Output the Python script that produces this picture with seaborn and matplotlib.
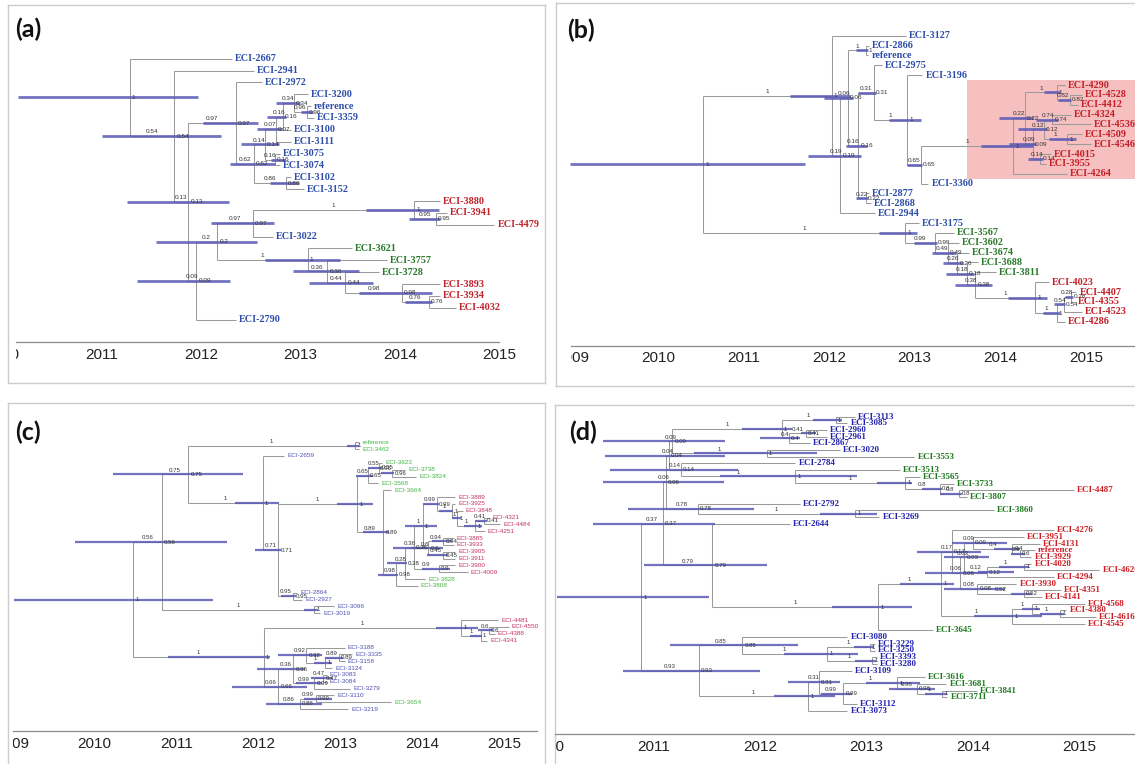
import matplotlib
matplotlib.use("Agg")
import matplotlib.pyplot as plt
from matplotlib.patches import Rectangle
from matplotlib.transforms import blended_transform_factory, Bbox, TransformedBbox
import seaborn as sns

# ----------------------------------------------------------------- data
# tips: (label, parent node, tip date, colour group)
# nodes: (id, parent, node date, posterior, HPD low, HPD high)
A_TIPS = [
    ("ECI-2667", "root", 2012.31, "b"), ("ECI-2941", "n54", 2012.53, "b"),
    ("ECI-2972", "n97", 2012.61, "b"), ("ECI-3200", "n34", 2013.07, "b"),
    ("reference", "n96", 2013.10, "b"), ("ECI-3359", "n96", 2013.13, "b"),
    ("ECI-3100", "n16", 2012.90, "b"), ("ECI-3111", "n07", 2012.90, "b"),
    ("ECI-3075", "n16b", 2012.79, "b"), ("ECI-3074", "n16b", 2012.79, "b"),
    ("ECI-3102", "n86", 2012.90, "b"), ("ECI-3152", "n86", 2013.03, "b"),
    ("ECI-3880", "n1a", 2014.40, "r"), ("ECI-3941", "n95", 2014.47, "r"),
    ("ECI-4479", "n95", 2014.95, "r"), ("ECI-3022", "n97b", 2012.72, "b"),
    ("ECI-3621", "n1g", 2013.52, "g"), ("ECI-3757", "n36", 2013.87, "g"),
    ("ECI-3728", "n44", 2013.79, "g"), ("ECI-3893", "n98", 2014.40, "r"),
    ("ECI-3934", "n76", 2014.40, "r"), ("ECI-4032", "n76", 2014.56, "r"),
    ("ECI-2790", "n09", 2012.35, "b"),
]
A_NODES = [
    ("root", None, 2011.28, "1", 2010.16, 2011.97),
    ("n54", "root", 2011.73, "0.54", 2011.00, 2012.20),
    ("n13", "n54", 2011.87, "0.13", 2011.25, 2012.28),
    ("n97", "n13", 2012.35, "0.97", 2012.02, 2012.57),
    ("n62", "n97", 2012.53, "0.62", 2012.29, 2012.74),
    ("n14", "n62", 2012.64, "0.14", 2012.40, 2012.78),
    ("n07", "n14", 2012.75, "0.07", 2012.56, 2012.81),
    ("n16", "n07", 2012.82, "0.16", 2012.66, 2012.85),
    ("n34", "n16", 2012.93, "0.34", 2012.75, 2012.99),
    ("n96", "n34", 2013.06, "0.96", 2013.00, 2013.12),
    ("n16b", "n14", 2012.74, "0.16", 2012.70, 2012.84),
    ("n86", "n62", 2012.85, "0.86", 2012.69, 2012.98),
    ("n09", "n13", 2011.95, "0.09", 2011.35, 2012.29),
    ("n2", "n09", 2012.16, "0.2", 2011.55, 2012.56),
    ("n97b", "n2", 2012.52, "0.97", 2012.10, 2012.73),
    ("n1a", "n97b", 2014.14, "1", 2013.66, 2014.39),
    ("n95", "n1a", 2014.36, "0.95", 2014.09, 2014.40),
    ("n1g", "n2", 2013.07, "1", 2012.64, 2013.40),
    ("n36", "n1g", 2013.27, "0.36", 2012.92, 2013.59),
    ("n44", "n36", 2013.45, "0.44", 2013.08, 2013.73),
    ("n98", "n44", 2014.02, "0.98", 2013.59, 2014.32),
    ("n76", "n98", 2014.29, "0.76", 2014.05, 2014.32),
]

B_TIPS = [
    ("ECI-3127", "A", 2012.90, "b"), ("ECI-2866", "N1", 2012.47, "b"),
    ("reference", "N1", 2012.46, "b"), ("ECI-2975", "F", 2012.62, "b"),
    ("ECI-3196", "H", 2013.09, "b"), ("ECI-4290", "L", 2014.76, "r"),
    ("ECI-4528", "N82", 2014.95, "r"), ("ECI-4412", "N82", 2014.91, "r"),
    ("ECI-4324", "N74", 2014.83, "r"), ("ECI-4536", "N74", 2015.06, "r"),
    ("ECI-4509", "R", 2014.95, "r"), ("ECI-4546", "R", 2015.06, "r"),
    ("ECI-4015", "Q", 2014.59, "r"), ("ECI-3955", "Q", 2014.53, "r"),
    ("ECI-4264", "J", 2014.78, "r"), ("ECI-3360", "I", 2013.16, "b"),
    ("ECI-2877", "G", 2012.47, "b"), ("ECI-2868", "G", 2012.49, "b"),
    ("ECI-2944", "C", 2012.54, "b"), ("ECI-3175", "B", 2013.05, "b"),
    ("ECI-3567", "S", 2013.46, "g"), ("ECI-3602", "T", 2013.52, "g"),
    ("ECI-3674", "U", 2013.63, "g"), ("ECI-3688", "V", 2013.74, "g"),
    ("ECI-3811", "W", 2013.95, "g"), ("ECI-4023", "X", 2014.57, "r"),
    ("ECI-4407", "ZZ", 2014.89, "r"), ("ECI-4355", "ZZ", 2014.87, "r"),
    ("ECI-4523", "Z", 2014.95, "r"), ("ECI-4286", "Y", 2014.76, "r"),
]
B_NODES = [
    ("root", None, 2010.53, "1", 2008.98, 2011.72),
    ("A", "root", 2012.03, "1", 2011.55, 2012.24),
    ("C", "A", 2012.13, "0.19", 2011.76, 2012.37),
    ("D", "C", 2012.22, "0.06", 2011.94, 2012.28),
    ("N1", "D", 2012.43, "1", 2012.31, 2012.45),
    ("E", "D", 2012.34, "0.16", 2012.20, 2012.44),
    ("F", "E", 2012.52, "0.31", 2012.34, 2012.55),
    ("H", "F", 2012.91, "1", 2012.70, 2013.07),
    ("I", "H", 2013.07, "0.65", 2012.91, 2013.09),
    ("J", "I", 2014.15, "1", 2013.78, 2014.38),
    ("K", "J", 2014.29, "0.22", 2013.99, 2014.38),
    ("L", "K", 2014.66, "1", 2014.51, 2014.70),
    ("N82", "L", 2014.81, "0.82", 2014.68, 2014.83),
    ("M", "K", 2014.38, "0.09", 2014.10, 2014.42),
    ("P", "M", 2014.51, "0.12", 2014.21, 2014.55),
    ("N74", "P", 2014.61, "0.74", 2014.42, 2014.68),
    ("R", "P", 2014.78, "1", 2014.57, 2014.89),
    ("Q", "M", 2014.47, "0.14", 2014.32, 2014.50),
    ("G", "E", 2012.43, "0.22", 2012.31, 2012.45),
    ("B", "root", 2012.89, "1", 2012.58, 2013.03),
    ("S", "B", 2013.24, "0.99", 2012.99, 2013.26),
    ("T", "S", 2013.39, "0.49", 2013.20, 2013.48),
    ("U", "T", 2013.50, "0.26", 2013.33, 2013.56),
    ("V", "U", 2013.61, "0.18", 2013.37, 2013.69),
    ("W", "V", 2013.71, "0.38", 2013.47, 2013.91),
    ("X", "W", 2014.41, "1", 2014.09, 2014.55),
    ("Y", "X", 2014.66, "1", 2014.50, 2014.70),
    ("Z", "Y", 2014.74, "0.54", 2014.63, 2014.76),
    ("ZZ", "Z", 2014.83, "0.28", 2014.76, 2014.85),
]
# highlighted clade in (b): first tip, last tip, start date
B_HIGHLIGHT = ("ECI-4290", "ECI-4264", 2013.61)

C_TIPS = [
    ("reference", "Na", 2013.23, "g"), ("ECI-3462", "Na", 2013.23, "g"),
    ("ECI-2659", "Nb", 2012.31, "b"), ("ECI-3623", "N55", 2013.51, "g"),
    ("ECI-3738", "N96", 2013.79, "g"), ("ECI-3824", "N96", 2013.92, "g"),
    ("ECI-3568", "N65", 2013.46, "g"), ("ECI-3664", "N89", 2013.62, "g"),
    ("ECI-3889", "N99", 2014.40, "m"), ("ECI-3925", "N1f", 2014.40, "m"),
    ("ECI-3848", "N1g", 2014.49, "m"), ("ECI-4321", "N41", 2014.82, "m"),
    ("ECI-4484", "N41", 2014.95, "m"), ("ECI-4251", "N1h", 2014.76, "m"),
    ("ECI-3885", "N94", 2014.38, "m"), ("ECI-3933", "N94", 2014.38, "m"),
    ("ECI-3905", "N45", 2014.40, "m"), ("ECI-3911", "N45", 2014.40, "m"),
    ("ECI-3900", "N09", 2014.40, "m"), ("ECI-4009", "N09", 2014.55, "m"),
    ("ECI-3828", "N28", 2014.03, "g"), ("ECI-3808", "N98", 2013.94, "g"),
    ("ECI-2864", "N95", 2012.47, "b"), ("ECI-2927", "N95", 2012.53, "b"),
    ("ECI-3096", "N1d", 2012.92, "b"), ("ECI-3019", "N1d", 2012.75, "b"),
    ("ECI-4481", "N1i", 2014.92, "m"), ("ECI-4550", "N06m", 2015.05, "m"),
    ("ECI-4388", "N06m", 2014.88, "m"), ("ECI-4341", "N1j", 2014.79, "m"),
    ("ECI-3188", "N92", 2013.05, "b"), ("ECI-3335", "N89b", 2013.14, "b"),
    ("ECI-3158", "N89b", 2013.05, "b"), ("ECI-3124", "N1k", 2012.90, "b"),
    ("ECI-3083", "N47", 2012.83, "b"), ("ECI-3084", "N47", 2012.83, "b"),
    ("ECI-3279", "N99b", 2013.12, "b"), ("ECI-3110", "N99c", 2012.92, "b"),
    ("ECI-3654", "N99c", 2013.62, "g"), ("ECI-3219", "N86", 2013.09, "b"),
]
C_NODES = [
    ("root", None, 2010.47, "1", 2009.02, 2011.44),
    ("N56", "root", 2010.82, "0.56", 2009.76, 2011.62),
    ("N75", "N56", 2011.14, "0.75", 2010.22, 2011.81),
    ("Na", "N75", 2013.18, "1", 2013.08, 2013.22),
    ("Nb", "N75", 2012.05, "1", 2011.71, 2012.25),
    ("N71", "Nb", 2012.24, "0.71", 2011.96, 2012.27),
    ("Nc", "N71", 2013.20, "1", 2012.96, 2013.40),
    ("N65", "Nc", 2013.33, "0.65", 2013.19, 2013.40),
    ("N55", "N65", 2013.47, "0.55", 2013.33, 2013.51),
    ("N96", "N55", 2013.63, "0.96", 2013.49, 2013.65),
    ("N89", "Nc", 2013.52, "0.89", 2013.27, 2013.59),
    ("N98", "N89", 2013.68, "0.98", 2013.46, 2013.70),
    ("N28", "N98", 2013.79, "0.28", 2013.57, 2013.81),
    ("N36", "N28", 2013.89, "0.36", 2013.64, 2014.07),
    ("N1e", "N36", 2014.00, "1", 2013.79, 2014.18),
    ("N99", "N1e", 2014.17, "0.99", 2014.01, 2014.20),
    ("N1f", "N99", 2014.36, "1", 2014.20, 2014.37),
    ("N1g", "N1f", 2014.42, "1", 2014.36, 2014.47),
    ("N1h", "N1g", 2014.64, "1", 2014.51, 2014.73),
    ("N41", "N1h", 2014.75, "0.41", 2014.64, 2014.79),
    ("N06", "N1e", 2014.07, "0.6", 2013.86, 2014.25),
    ("N94", "N06", 2014.25, "0.94", 2014.12, 2014.36),
    ("N45", "N06", 2014.25, "0.45", 2014.05, 2014.31),
    ("N09", "N36", 2014.20, "0.9", 2013.99, 2014.34),
    ("N95", "N71", 2012.42, "0.95", 2012.27, 2012.46),
    ("N1d", "N56", 2012.68, "1", 2012.55, 2012.72),
    ("N1c", "root", 2012.06, "1", 2010.89, 2012.14),
    ("N1i", "N1c", 2014.47, "1", 2014.16, 2014.68),
    ("N1j", "N1i", 2014.71, "1", 2014.58, 2014.73),
    ("N06m", "N1j", 2014.81, "0.6", 2014.68, 2014.86),
    ("N66", "N1c", 2012.24, "0.66", 2011.68, 2012.59),
    ("N36c", "N66", 2012.42, "0.36", 2011.98, 2012.57),
    ("N92", "N36c", 2012.58, "0.92", 2012.24, 2012.77),
    ("N1k", "N92", 2012.81, "1", 2012.68, 2012.90),
    ("N89b", "N1k", 2012.98, "0.89", 2012.81, 2013.03),
    ("N99b", "N36c", 2012.68, "0.99", 2012.46, 2012.77),
    ("N47", "N99b", 2012.79, "0.47", 2012.64, 2012.90),
    ("N86", "N66", 2012.50, "0.86", 2012.09, 2012.77),
    ("N99c", "N86", 2012.70, "0.99", 2012.55, 2012.90),
]

D_TIPS = [
    ("ECI-3113", "N1a", 2012.89, "b"), ("ECI-3085", "N1a", 2012.82, "b"),
    ("ECI-2960", "N41", 2012.63, "b"), ("ECI-2961", "N41", 2012.63, "b"),
    ("ECI-2867", "N04", 2012.47, "b"), ("ECI-3020", "N1c", 2012.75, "b"),
    ("ECI-3553", "N1c", 2013.45, "g"), ("ECI-2784", "N14", 2012.33, "b"),
    ("ECI-3513", "N1f", 2013.31, "g"), ("ECI-3565", "N1g", 2013.50, "g"),
    ("ECI-3733", "N08", 2013.82, "g"), ("ECI-4487", "N08b", 2014.95, "r"),
    ("ECI-3807", "N08b", 2013.94, "g"), ("ECI-2792", "N78", 2012.37, "b"),
    ("ECI-3860", "N1e", 2014.20, "g"), ("ECI-3269", "N1e", 2013.12, "b"),
    ("ECI-2644", "N79", 2012.28, "b"), ("ECI-4276", "N17", 2014.76, "r"),
    ("ECI-3951", "N09e", 2014.48, "r"), ("ECI-4131", "N04e", 2014.63, "r"),
    ("reference", "Nref", 2014.58, "r"), ("ECI-3929", "Nref", 2014.55, "r"),
    ("ECI-4020", "N1m", 2014.55, "r"), ("ECI-4620", "N1m", 2015.19, "r"),
    ("ECI-4294", "N12", 2014.76, "r"), ("ECI-3930", "N08e", 2014.41, "r"),
    ("ECI-4351", "N52", 2014.83, "r"), ("ECI-4141", "N52", 2014.65, "r"),
    ("ECI-4568", "N1k", 2015.05, "r"), ("ECI-4380", "N1i", 2014.88, "r"),
    ("ECI-4616", "N1i", 2015.16, "r"), ("ECI-4545", "N1j", 2015.05, "r"),
    ("ECI-3645", "NR", 2013.62, "g"), ("ECI-3080", "N85", 2012.82, "b"),
    ("ECI-3229", "N1p", 2013.08, "b"), ("ECI-3250", "N1p", 2013.08, "b"),
    ("ECI-3393", "N1q", 2013.10, "b"), ("ECI-3280", "N1q", 2013.10, "b"),
    ("ECI-3109", "N31", 2012.86, "b"), ("ECI-3616", "N1r", 2013.55, "g"),
    ("ECI-3681", "N96", 2013.75, "g"), ("ECI-3841", "N1s", 2014.04, "g"),
    ("ECI-3711", "N1s", 2013.76, "g"), ("ECI-3112", "N99", 2012.91, "b"),
    ("ECI-3073", "N1n", 2012.82, "b"),
]
D_NODES = [
    ("root", None, 2010.88, "1", 2010.09, 2011.52),
    ("N37", "root", 2011.08, "0.37", 2010.43, 2011.57),
    ("N06d", "N37", 2011.11, "0.06", 2010.52, 2011.66),
    ("N04d", "N06d", 2011.14, "0.04", 2010.54, 2011.67),
    ("N09d", "N04d", 2011.17, "0.09", 2010.52, 2011.67),
    ("N1b", "N09d", 2012.20, "1", 2011.83, 2012.30),
    ("N1a", "N1b", 2012.71, "1", 2012.50, 2012.77),
    ("N04", "N1b", 2012.27, "0.4", 2012.00, 2012.37),
    ("N41", "N04", 2012.43, "0.41", 2012.38, 2012.52),
    ("N1c", "N09d", 2012.06, "1", 2011.38, 2012.53),
    ("N14", "N04d", 2011.25, "0.14", 2010.59, 2011.79),
    ("N1f", "N14", 2012.33, "1", 2011.62, 2012.91),
    ("N1g", "N1f", 2013.36, "1", 2013.10, 2013.43),
    ("N08", "N1g", 2013.69, "0.8", 2013.52, 2013.71),
    ("N08b", "N08", 2013.87, "0.8", 2013.69, 2013.90),
    ("N78", "N06d", 2011.41, "0.78", 2010.76, 2011.94),
    ("N1e", "N78", 2012.89, "1", 2012.56, 2013.10),
    ("N79", "N37", 2011.55, "0.79", 2010.91, 2012.06),
    ("NR", "N79", 2013.11, "1", 2012.67, 2013.43),
    ("NRa", "NR", 2013.70, "1", 2013.31, 2013.82),
    ("N17", "NRa", 2013.80, "0.17", 2013.47, 2014.08),
    ("N06e", "N17", 2013.88, "0.06", 2013.55, 2014.13),
    ("N03", "N06e", 2013.92, "0.03", 2013.73, 2014.15),
    ("N09e", "N03", 2014.00, "0.09", 2013.80, 2014.32),
    ("N04e", "N09e", 2014.37, "0.4", 2014.20, 2014.44),
    ("Nref", "N04e", 2014.44, "0.6", 2014.36, 2014.49),
    ("N12", "N03", 2014.13, "0.12", 2014.05, 2014.39),
    ("N1m", "N12", 2014.48, "1", 2014.25, 2014.53),
    ("N08e", "N06e", 2014.04, "0.08", 2013.73, 2014.30),
    ("N52", "N08e", 2014.48, "0.52", 2014.36, 2014.56),
    ("N1j", "NRa", 2014.37, "1", 2014.01, 2014.65),
    ("N1k", "N1j", 2014.56, "1", 2014.46, 2014.63),
    ("N1i", "N1k", 2014.82, "1", 2014.63, 2014.86),
    ("N93", "root", 2011.42, "0.93", 2010.71, 2012.00),
    ("N85", "N93", 2011.83, "0.85", 2011.15, 2012.35),
    ("N1o", "N85", 2012.63, "1", 2012.22, 2012.92),
    ("N1p", "N1o", 2013.03, "1", 2012.88, 2013.07),
    ("N1q", "N1o", 2013.05, "1", 2012.89, 2013.09),
    ("N1n", "N93", 2012.45, "1", 2012.13, 2012.70),
    ("N31", "N1n", 2012.55, "0.31", 2012.26, 2012.75),
    ("N99", "N31", 2012.78, "0.99", 2012.57, 2012.86),
    ("N1r", "N99", 2013.29, "1", 2012.99, 2013.50),
    ("N96", "N1r", 2013.47, "0.96", 2013.21, 2013.64),
    ("N1s", "N96", 2013.71, "1", 2013.55, 2013.76),
]

PANEL_LABELS = ["(a)", "(b)", "(c)", "(d)"]

# ----------------------------------------------------------------- style
sns.set_theme(style="white")
plt.rcParams["font.family"] = ["DejaVu Sans"]

W, H = 1135, 764
fig = plt.figure(figsize=(W / 100, H / 100), dpi=100)
fig.patch.set_facecolor("white")

HPD_COL = "#5a5ab6"
BRANCH_COL = "#9a9a9a"
NODE_TXT = "#333333"


def frac_rect(l, t, r, b):
    return [l / W, 1 - b / H, (r - l) / W, (b - t) / H]


PANELS = [
    dict(tips=A_TIPS, nodes=A_NODES, box=(8, 5, 545, 383), lab=(15, 29),
         ref=(2011, 101.8), ppy=99.4, xlim=(2009.9, 2015.05), spine=(2010.14, 2015.0),
         tip0=58.7, row=11.86, axis=342, top=10, years=range(2010, 2016),
         tipfont=dict(family="Liberation Serif", weight="bold", size=7.3),
         cols={"b": "#2d4ea8", "r": "#c0232b", "g": "#2a7a2a"}, hpdlw=2.0, nodefs=4.6),
    dict(tips=B_TIPS, nodes=B_NODES, box=(556, 3, 1150, 386), lab=(567, 30),
         ref=(2010, 657.8), ppy=85.6, xlim=(2008.82, 2015.62), spine=(2008.99, 2015.62),
         tip0=35.7, row=9.86, axis=345.7, top=8, years=range(2009, 2016),
         tipfont=dict(family="Liberation Serif", weight="bold", size=7.3),
         cols={"b": "#2d4ea8", "r": "#c41f28", "g": "#2a7a2a"}, hpdlw=2.0, nodefs=4.6),
    dict(tips=C_TIPS, nodes=C_NODES, box=(8, 403, 545, 780), lab=(15, 432),
         ref=(2010, 94.6), ppy=82.0, xlim=(2008.9, 2015.45), spine=(2009.01, 2015.40),
         tip0=442.3, row=6.84, axis=731, top=410, years=range(2009, 2016),
         tipfont=dict(family="Liberation Sans", weight="normal", size=4.6),
         cols={"b": "#5050b4", "g": "#45b545", "m": "#c33268"}, hpdlw=1.6, nodefs=4.4),
    dict(tips=D_TIPS, nodes=D_NODES, box=(555, 405, 1150, 780), lab=(569, 432),
         ref=(2011, 654.0), ppy=106.3, xlim=(2009.95, 2015.55), spine=(2010.07, 2015.55),
         tip0=416.7, row=6.68, axis=734.3, top=410, years=range(2010, 2016),
         tipfont=dict(family="Liberation Serif", weight="bold", size=6.5),
         cols={"b": "#2323ae", "r": "#cc1f26", "g": "#1f7a1f"}, hpdlw=1.6, nodefs=4.4),
]


def draw_tree(ax, tips, nodes, st):
    parent, when, ypos, kids, info = {}, {}, {}, {}, {}
    for i, (name, par, t, g) in enumerate(tips):
        key = "tip:" + name
        parent[key], when[key], ypos[key] = par, t, float(i)
        kids.setdefault(par, []).append(key)
    for nid, par, t, post, lo, hi in nodes:
        parent[nid], when[nid] = par, t
        info[nid] = (post, lo, hi)
        if par is not None:
            kids.setdefault(par, []).append(nid)

    def gety(k):
        if k not in ypos:
            ys = [gety(c) for c in kids[k]]
            ypos[k] = (min(ys) + max(ys)) / 2
        return ypos[k]

    for nid in info:
        gety(nid)

    # horizontal branches
    hy, hx0, hx1 = [], [], []
    for k, par in parent.items():
        if par is None:
            continue
        hy.append(ypos[k]); hx0.append(when[par]); hx1.append(when[k])
    ax.hlines(hy, hx0, hx1, color=BRANCH_COL, lw=0.75, zorder=2)
    # vertical connectors
    vx, vy0, vy1 = [], [], []
    for nid in info:
        ys = [ypos[c] for c in kids[nid]]
        vx.append(when[nid]); vy0.append(min(ys)); vy1.append(max(ys))
    ax.vlines(vx, vy0, vy1, color=BRANCH_COL, lw=0.75, zorder=2)
    # HPD bars
    ax.hlines([ypos[n] for n in info], [info[n][1] for n in info],
              [info[n][2] for n in info], color=HPD_COL, lw=st["hpdlw"],
              alpha=0.85, zorder=3)
    # posterior labels (node + branch)
    for nid, (post, lo, hi) in info.items():
        ax.annotate(post, (when[nid], ypos[nid]), xytext=(1.6, 0),
                    textcoords="offset points", ha="left", va="center",
                    fontsize=st["nodefs"], color=NODE_TXT, zorder=5,
                    family="Liberation Sans")
        if parent[nid] is not None:
            ax.annotate(post, ((when[parent[nid]] + when[nid]) / 2, ypos[nid]),
                        xytext=(0, 1.3), textcoords="offset points",
                        ha="center", va="bottom", fontsize=st["nodefs"],
                        color=NODE_TXT, zorder=5, family="Liberation Sans")
    # tip labels
    for name, par, t, g in tips:
        ax.annotate(name, (t, ypos["tip:" + name]), xytext=(2.2, 0),
                    textcoords="offset points", ha="left", va="center",
                    color=st["cols"][g], zorder=5, **st["tipfont"])
    return ypos


for st, lab in zip(PANELS, PANEL_LABELS):
    # outer frame
    outer = fig.add_axes(frac_rect(*st["box"]))
    outer.set_xticks([]); outer.set_yticks([])
    outer.set_facecolor("white")
    for sp in outer.spines.values():
        sp.set_color("#cccccc"); sp.set_linewidth(1.0)
    outer.set_zorder(0)

    ref_year, ref_px = st["ref"]
    x0, x1 = st["xlim"]
    left_px = ref_px + (x0 - ref_year) * st["ppy"]
    right_px = ref_px + (x1 - ref_year) * st["ppy"]
    ax = fig.add_axes(frac_rect(left_px, st["top"], right_px, st["axis"]))
    ax.set_zorder(1)
    ax.set_facecolor("none")
    ax.set_xlim(x0, x1)
    ax.set_ylim((st["axis"] - st["tip0"]) / st["row"], (st["top"] - st["tip0"]) / st["row"])
    for side in ("top", "left", "right"):
        ax.spines[side].set_visible(False)
    ax.spines["bottom"].set_color("#8a8a8a")
    ax.spines["bottom"].set_linewidth(0.9)
    ax.spines["bottom"].set_bounds(*st["spine"])
    ax.set_yticks([])
    years = list(st["years"])
    ax.set_xticks(years, labels=[str(y) for y in years])
    halves = [y + 0.5 for y in range(years[0] - 1, years[-1] + 1)
              if st["spine"][0] <= y + 0.5 <= st["spine"][1]]
    ax.set_xticks(halves, minor=True)
    ax.tick_params(axis="x", which="major", length=2.5, width=0.7, color="#8a8a8a",
                   direction="inout", labelbottom=False)
    ax.tick_params(axis="x", which="minor", length=2, width=0.6, color="#8a8a8a",
                   direction="inout")
    for tk, yv in zip(ax.xaxis.get_major_ticks(), years):
        if yv < st["spine"][0]:
            tk.tick1line.set_visible(False)
    # year labels: cut at the left end of the time axis, as in the original
    tr = blended_transform_factory(ax.transData, fig.transFigure)
    clip_tr = blended_transform_factory(ax.transData, outer.transAxes)
    clip_box = TransformedBbox(Bbox.from_extents(st["spine"][0], 0, x1 + 5, 1), clip_tr)
    for yv in years:
        t = outer.text(yv, 1 - (st["axis"] + 12.5) / H, str(yv), transform=tr,
                       ha="center", va="center", fontsize=11, color="#222222",
                       family="Liberation Sans", clip_on=True)
        t.set_clip_box(clip_box)

    ypos = draw_tree(ax, st["tips"], st["nodes"], st)

    if st["tips"] is B_TIPS:
        first, last, start = B_HIGHLIGHT
        y0 = ypos["tip:" + first] - 0.5
        y1 = ypos["tip:" + last] + 0.5
        ax.add_patch(Rectangle((start, y0), x1 - start, y1 - y0,
                               facecolor="#f6b9b9", edgecolor="none",
                               alpha=0.9, zorder=0.5))

    lx, ly = st["lab"]
    fig.text(lx / W, 1 - ly / H, lab, ha="left", va="center", fontsize=18,
             fontweight="bold", family="Lato", color="#111111")

fig.savefig("out.png", dpi=100, facecolor="white")
